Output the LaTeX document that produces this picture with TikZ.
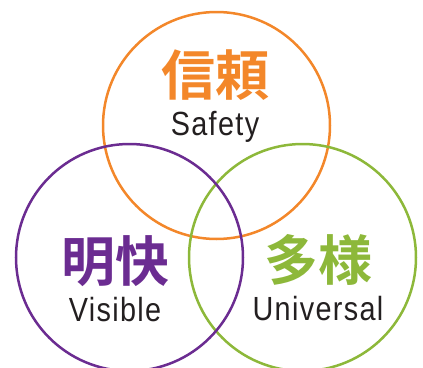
\documentclass[tikz,border=0pt]{standalone}
\usepackage{fontspec}
\setmainfont{Liberation Sans}[FakeStretch=0.86, LetterSpace=4]
\newfontfamily\cjk{Noto Sans CJK JP}[BoldFont={Noto Sans CJK JP Bold}]
\usetikzlibrary{positioning}
\definecolor{safeorange}{RGB}{243,135,42}
\definecolor{visiblepurple}{RGB}{107,44,145}
\definecolor{universalgreen}{RGB}{141,184,58}
\definecolor{labelgray}{RGB}{35,31,32}

\begin{document}
\begin{tikzpicture}[
            x=1pt, y=-1pt,
            node distance=10pt,
            ring/.style={circle, draw, line width=2.5pt, minimum size=227pt, inner sep=0pt, outer sep=0pt},
            kanji/.style={font=\cjk\bfseries\fontsize{54}{54}\selectfont, inner sep=0pt},
            word/.style={font=\fontsize{33.5}{33.5}\selectfont, text=labelgray, inner sep=0pt}
        ]
            \useasboundingbox (0,0) rectangle (423,367);

            % Circles
            \node[ring, draw=safeorange] (safety) at (216.5,125.5) {};
            \node[ring, draw=universalgreen] (universal) at (302.5,257.5) {};
            \node[ring, draw=visiblepurple] (visible) at (129.5,257.5) {};

            % Labels
            \node[kanji, text=safeorange] (shinrai) at (215,75) {信頼};
            \node[word, below=of shinrai] (safetytext) {Safety};
            \node[kanji, text=visiblepurple] (meikai) at (115,261) {明快};
            \node[word, below=of meikai] (visibletext) {Visible};
            \node[kanji, text=universalgreen] (tayou) at (318,260) {多様};
            \node[word, below=of tayou] (universaltext) {Universal};
        \end{tikzpicture}
\end{document}
